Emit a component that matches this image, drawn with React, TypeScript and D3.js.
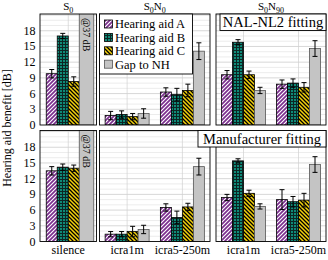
import { useEffect, useRef } from "react";
import * as d3 from "d3";

const series = ["Hearing aid A", "Hearing aid B", "Hearing aid C", "Gap to NH"];
const silenceCats = ["silence"];
const noiseCats = ["icra1m", "icra5-250m"];
const yTicks = [0, 3, 6, 9, 12, 15, 18];

// order of the 5 groups: S0 silence | S0N0 icra1m, icra5-250m | S0N90 icra1m, icra5-250m
const nalA = [9.8, 1.8, 6.3, 9.6, 7.8];
const nalAErr = [0.8, 0.8, 0.8, 0.8, 0.8];
const nalB = [17.0, 2.0, 5.8, 15.8, 8.0];
const nalBErr = [0.5, 0.7, 1.2, 0.5, 0.8];
const nalC = [8.3, 1.6, 6.6, 9.6, 7.2];
const nalCErr = [0.9, 0.6, 1.2, 0.7, 0.9];
const nalGap = [37, 2.2, 14.1, 6.6, 14.6];
const nalGapErr = [0, 0.9, 1.6, 0.6, 1.5];

const manA = [13.5, 1.4, 6.5, 8.4, 8.0];
const manAErr = [0.8, 0.5, 0.7, 0.6, 1.9];
const manB = [14.2, 1.4, 4.6, 15.4, 7.6];
const manBErr = [0.6, 0.5, 1.2, 0.4, 1.0];
const manC = [14.0, 1.9, 6.6, 9.2, 7.9];
const manCErr = [0.6, 1.0, 0.7, 0.6, 1.3];
const manGap = [37, 2.3, 14.3, 6.7, 14.7];
const manGapErr = [0, 0.8, 1.6, 0.5, 1.5];

const FONT = "'Liberation Serif', 'Times New Roman', serif";
const YMAX = 21.2;

export default function App() {
  const svgRef = useRef<SVGSVGElement>(null);

  useEffect(() => {
    if (!svgRef.current) return;
    const svg = d3.select(svgRef.current);
    svg.selectAll("*").remove();

    const defs = svg.append("defs");
    const pA = defs.append("pattern").attr("id", "pA").attr("patternUnits", "userSpaceOnUse").attr("width", 4).attr("height", 4);
    pA.append("rect").attr("width", 4).attr("height", 4).attr("fill", "#7b2f8e");
    pA.append("path").attr("d", "M-1,1L1,-1M0,4L4,0M3,5L5,3").attr("stroke", "#fff").attr("stroke-width", 1.1);

    const pB = defs.append("pattern").attr("id", "pB").attr("patternUnits", "userSpaceOnUse").attr("width", 3).attr("height", 3);
    pB.append("rect").attr("width", 3).attr("height", 3).attr("fill", "#0c2624");
    pB.append("rect").attr("width", 2).attr("height", 2).attr("fill", "#0f8a78");

    const pC = defs.append("pattern").attr("id", "pC").attr("patternUnits", "userSpaceOnUse").attr("width", 4).attr("height", 4);
    pC.append("rect").attr("width", 4).attr("height", 4).attr("fill", "#f4d20c");
    pC.append("path").attr("d", "M-1,3L1,5M0,0L4,4M3,-1L5,1").attr("stroke", "#000").attr("stroke-width", 1.3);

    const fills = ["url(#pA)", "url(#pB)", "url(#pC)", "#c4c4c4"];
    const strokes = ["#000", "#000", "#000", "#555"];

    const panels = [
      { x0: 40, x1: 96.5, cats: silenceCats, idx: [0], title: ["S", "0", "", ""] },
      { x0: 99.5, x1: 210, cats: noiseCats, idx: [1, 2], title: ["S", "0", "N", "0"] },
      { x0: 216, x1: 326, cats: noiseCats, idx: [3, 4], title: ["S", "0", "N", "90"] },
    ];

    const rows = [
      { top: 14, vals: [nalA, nalB, nalC, nalGap], errs: [nalAErr, nalBErr, nalCErr, nalGapErr] },
      { top: 130.5, vals: [manA, manB, manC, manGap], errs: [manAErr, manBErr, manCErr, manGapErr] },
    ];
    const rowH = 111;

    rows.forEach((row, ri) => {
      const y = d3.scaleLinear().domain([0, YMAX]).range([row.top + rowH, row.top]);

      panels.forEach((p, pi) => {
        const g = svg.append("g");
        const clipId = `clip${ri}${pi}`;
        defs.append("clipPath").attr("id", clipId)
          .append("rect").attr("x", p.x0).attr("y", row.top).attr("width", p.x1 - p.x0).attr("height", rowH);

        const x = d3.scaleBand().domain(p.cats).range([p.x0, p.x1]);
        const xs = d3.scaleBand().domain(series).range([-22, 22]);

        // grid
        g.selectAll(".minor").data(d3.range(1, 22)).enter().append("line")
          .attr("x1", p.x0).attr("x2", p.x1)
          .attr("y1", (d) => y(d)).attr("y2", (d) => y(d))
          .attr("stroke", (d) => (d % 3 === 0 ? "#c6c6c6" : "#e4e4e4")).attr("stroke-width", 0.7);
        g.selectAll(".vgrid").data(p.cats).enter().append("line")
          .attr("x1", (d) => x(d)! + x.bandwidth() / 2).attr("x2", (d) => x(d)! + x.bandwidth() / 2)
          .attr("y1", row.top).attr("y2", row.top + rowH)
          .attr("stroke", "#d0d0d0").attr("stroke-width", 0.7);

        const bars = g.append("g").attr("clip-path", `url(#${clipId})`);
        p.cats.forEach((cat, ci) => {
          const k = p.idx[ci];
          const cx = x(cat)! + x.bandwidth() / 2;
          series.forEach((s, si) => {
            const v = row.vals[si][k];
            const bx = cx + xs(s)!;
            const off = v > YMAX;
            const bw = off ? xs.bandwidth() + 3.5 : xs.bandwidth();
            bars.append("rect")
              .attr("x", bx).attr("y", y(v))
              .attr("width", bw).attr("height", y(0) - y(v))
              .attr("fill", fills[si]).attr("stroke", strokes[si]).attr("stroke-width", 0.8);
            const e = row.errs[si][k];
            const mx = bx + bw / 2;
            if (e > 0) {
              bars.append("path")
                .attr("d", `M${mx},${y(v - e)}V${y(v + e)}M${mx - 2.5},${y(v + e)}H${mx + 2.5}M${mx - 2.5},${y(v - e)}H${mx + 2.5}`)
                .attr("stroke", "#000").attr("stroke-width", 1).attr("fill", "none");
            }
            if (off) {
              bars.append("text")
                .attr("transform", `translate(${mx},${row.top + 4}) rotate(90)`)
                .attr("dy", "0.35em")
                .attr("font-family", FONT).attr("font-size", 10)
                .text(`@${v} dB`);
            }
          });
        });

        g.append("rect").attr("x", p.x0).attr("y", row.top)
          .attr("width", p.x1 - p.x0).attr("height", rowH)
          .attr("fill", "none").attr("stroke", "#000").attr("stroke-width", 0.9);

        if (pi === 0) {
          g.selectAll(".yt").data(yTicks).enter().append("text")
            .attr("x", 35.5).attr("y", (d) => y(d) + 4)
            .attr("text-anchor", "end")
            .attr("font-family", FONT).attr("font-size", 12)
            .text((d) => d);
        }
        if (ri === 0) {
          const t = g.append("text")
            .attr("x", (p.x0 + p.x1) / 2).attr("y", 10)
            .attr("text-anchor", "middle")
            .attr("font-family", FONT).attr("font-size", 11);
          t.append("tspan").text(p.title[0]);
          t.append("tspan").attr("font-size", 8).attr("dy", 2.5).text(p.title[1]);
          if (p.title[2]) {
            t.append("tspan").attr("dy", -2.5).text(p.title[2]);
            t.append("tspan").attr("font-size", 8).attr("dy", 2.5).text(p.title[3]);
          }
        } else {
          g.selectAll(".xt").data(p.cats).enter().append("text")
            .attr("x", (d) => x(d)! + x.bandwidth() / 2).attr("y", 254)
            .attr("text-anchor", "middle")
            .attr("font-family", FONT).attr("font-size", 12)
            .text((d) => d);
        }
      });
    });

    // legend
    const lg = svg.append("g");
    lg.append("rect").attr("x", 99.5).attr("y", 14).attr("width", 93).attr("height", 60)
      .attr("fill", "#fff").attr("stroke", "#000").attr("stroke-width", 0.9);
    series.forEach((s, i) => {
      const ly = 24 + i * 13.4;
      lg.append("rect").attr("x", 104.5).attr("y", ly - 4).attr("width", 8).attr("height", 8)
        .attr("fill", fills[i]).attr("stroke", strokes[i]).attr("stroke-width", 0.8);
      lg.append("text").attr("x", 115).attr("y", ly + 4.3)
        .attr("font-family", FONT).attr("font-size", 12.5).text(s);
    });

    // fitting labels
    const fit = [
      { x0: 220, y0: 14, w: 106, label: "NAL-NL2 fitting" },
      { x0: 198, y0: 130.5, w: 128, label: "Manufacturer fitting" },
    ];
    fit.forEach((f) => {
      svg.append("rect").attr("x", f.x0).attr("y", f.y0).attr("width", f.w).attr("height", 16.5)
        .attr("fill", "#fff").attr("stroke", "#000").attr("stroke-width", 0.9);
      svg.append("text").attr("x", f.x0 + f.w / 2).attr("y", f.y0 + 13)
        .attr("text-anchor", "middle")
        .attr("font-family", FONT).attr("font-size", 14.5).text(f.label);
    });

    svg.append("text")
      .attr("transform", "translate(10.5,128) rotate(-90)")
      .attr("text-anchor", "middle")
      .attr("font-family", FONT).attr("font-size", 12)
      .text("Hearing aid benefit [dB]");
  }, []);

  return (
    <svg
      ref={svgRef}
      width={328}
      height={260}
      style={{ position: "absolute", left: 0, top: 0, background: "#fff" }}
    />
  );
}
